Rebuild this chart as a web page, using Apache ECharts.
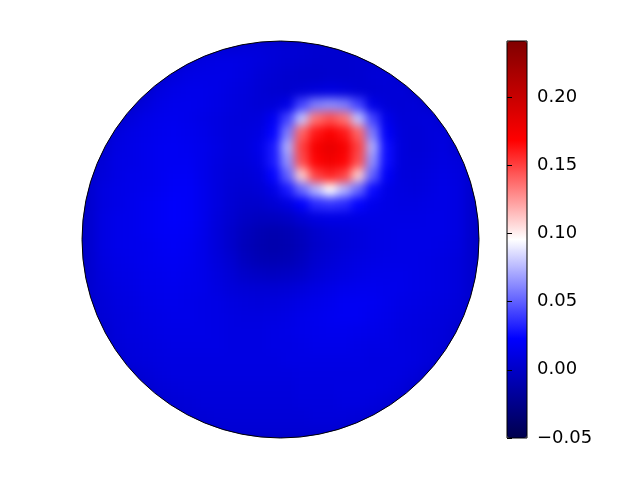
<!DOCTYPE html>
<html>
<head>
<meta charset="utf-8">
<title>disk field</title>
<script src="https://cdn.jsdelivr.net/npm/echarts@6.0.0/dist/echarts.min.js"></script>
<style>
  html, body { margin: 0; background: #fff; }
  .layer { position: absolute; left: 0; top: 0; width: 620px; height: 480px; }
  /* the field is drawn on its own layer and softened, like the shaded plot */
  #field { filter: blur(5px); }
</style>
</head>
<body>
<div id="field" class="layer"></div>
<div id="frame" class="layer"></div>
<script>
// values read off the disk, in units of 1e-3, one list per cell row (top -> bottom)
// rowStart = first column of each row that still touches the disk
const rowStart = [8, 6, 5, 4, 3, 2, 1, 1, 0, 0, 0, 0, 0, 0, 0, 0, 0, 0, 0, 0, 1, 1, 2, 3, 4, 5, 6, 8]
const field = [
	[3, 6, 7, 8, 8, 7, 6, 5, 4, 3, 3, 3],
	[3, 8, 11, 12, 12, 11, 9, 7, 5, 4, 3, 3, 3, 4, 5, 3],
	[3, 9, 12, 13, 13, 12, 10, 7, 5, 3, 2, 2, 3, 3, 4, 6, 7, 3],
	[3, 10, 13, 14, 14, 13, 11, 9, 6, 4, 3, 5, 8, 10, 8, 5, 5, 6, 7, 3],
	[3, 9, 13, 15, 15, 14, 12, 10, 8, 6, 7, 12, 42, 58, 62, 58, 42, 12, 7, 6, 7, 3],
	[3, 9, 13, 15, 16, 15, 13, 11, 9, 8, 9, 18, 42, 78, 136, 146, 136, 78, 42, 14, 7, 7, 8, 3],
	[3, 9, 12, 14, 16, 17, 16, 14, 11, 9, 9, 11, 24, 58, 140, 162, 170, 162, 140, 58, 20, 8, 6, 8, 9, 4],
	[4, 11, 13, 15, 17, 18, 17, 15, 12, 9, 9, 14, 30, 72, 150, 172, 180, 172, 150, 72, 26, 9, 6, 8, 10, 4],
	[3, 7, 12, 13, 15, 17, 18, 18, 15, 11, 8, 8, 12, 30, 64, 146, 167, 175, 167, 146, 64, 26, 9, 7, 9, 11, 9, 3],
	[3, 8, 12, 14, 15, 17, 19, 19, 15, 10, 7, 6, 9, 24, 50, 110, 150, 158, 150, 110, 50, 20, 9, 8, 10, 12, 10, 3],
	[3, 10, 13, 14, 16, 18, 20, 20, 16, 10, 6, 4, 6, 12, 30, 52, 74, 96, 74, 52, 26, 13, 10, 9, 11, 13, 11, 3],
	[3, 10, 13, 15, 17, 19, 21, 20, 16, 10, 5, 2, 2, 5, 10, 22, 35, 38, 35, 24, 15, 12, 11, 11, 12, 13, 11, 3],
	[3, 11, 14, 15, 17, 19, 21, 20, 16, 9, 4, -1, -3, -3, -1, 5, 10, 12, 12, 12, 12, 12, 12, 12, 13, 13, 11, 3],
	[3, 11, 14, 15, 17, 19, 20, 19, 15, 8, 2, -4, -8, -10, -8, -4, 2, 5, 7, 9, 11, 12, 13, 13, 13, 13, 11, 3],
	[3, 11, 14, 15, 16, 18, 19, 18, 14, 8, 2, -5, -9, -11, -9, -5, 1, 4, 7, 9, 11, 12, 13, 13, 13, 12, 10, 3],
	[3, 10, 13, 14, 16, 17, 18, 17, 14, 9, 4, -3, -7, -8, -7, -3, 3, 6, 9, 11, 12, 13, 13, 13, 12, 11, 9, 3],
	[3, 9, 12, 13, 15, 16, 17, 16, 14, 10, 6, 1, -1, -2, -1, 1, 6, 9, 11, 13, 14, 14, 14, 13, 12, 11, 9, 3],
	[3, 8, 11, 12, 14, 15, 16, 15, 14, 11, 8, 6, 5, 5, 6, 8, 11, 13, 15, 16, 16, 15, 14, 13, 12, 11, 9, 3],
	[3, 7, 10, 11, 13, 14, 15, 14, 13, 12, 10, 9, 8, 9, 10, 12, 14, 16, 18, 18, 17, 15, 13, 12, 11, 10, 8, 3],
	[3, 6, 9, 10, 12, 13, 14, 14, 13, 12, 11, 10, 10, 11, 12, 14, 16, 17, 18, 18, 16, 14, 12, 11, 10, 9, 7, 3],
	[3, 8, 10, 11, 12, 13, 13, 13, 12, 11, 11, 11, 12, 13, 14, 15, 16, 16, 15, 14, 13, 11, 10, 9, 8, 3],
	[3, 7, 9, 10, 11, 12, 12, 12, 12, 11, 11, 11, 12, 12, 13, 14, 14, 14, 13, 12, 12, 11, 10, 9, 7, 3],
	[3, 8, 9, 10, 11, 11, 11, 11, 11, 11, 11, 11, 12, 12, 12, 12, 12, 12, 11, 11, 11, 10, 8, 3],
	[3, 7, 9, 10, 10, 10, 10, 10, 10, 10, 10, 10, 11, 11, 11, 11, 11, 11, 11, 10, 8, 3],
	[3, 7, 8, 9, 9, 9, 9, 9, 9, 9, 9, 10, 10, 10, 11, 11, 11, 10, 8, 3],
	[3, 6, 7, 8, 8, 8, 8, 8, 8, 8, 9, 9, 9, 10, 10, 9, 7, 3],
	[2, 5, 6, 7, 7, 7, 7, 7, 7, 7, 8, 8, 8, 7, 5, 2],
	[2, 4, 5, 5, 5, 5, 5, 5, 5, 5, 4, 2],
]

// colour scale (matplotlib "seismic") and colorbar ticks
const vMin = -0.05
const vMax = 0.241
const colorbarTicks = [-0.05, 0, 0.05, 0.1, 0.15, 0.2]
const seismic = ["#00004d", "#0000ff", "#ffffff", "#ff0000", "#800000"]

const n = field.length
const cats = []
for (let i = 0; i < n; i++) cats.push(i)
const cells = []
field.forEach((row, j) => {
	row.forEach((v, k) => {
		cells.push([rowStart[j] + k, j, v / 1000])
	})
})

function tickText(v) {
	// matplotlib writes the minus as U+2212
	return v < 0 ? "\u2212" + Math.abs(v).toFixed(2) : v.toFixed(2)
}

const diskGrid = { left: 82, top: 41, width: 397, height: 397 }

// layer 1: the field itself
const fieldChart = echarts.init(document.getElementById("field"))
fieldChart.setOption({
	animation: false,
	grid: diskGrid,
	xAxis: { type: "category", data: cats, show: false },
	yAxis: { type: "category", data: cats, inverse: true, show: false },
	visualMap: { type: "continuous", show: false, min: vMin, max: vMax, seriesIndex: 0, inRange: { color: seismic } },
	series: [{ type: "heatmap", data: cells, emphasis: { disabled: true } }],
})

// disk centre / radius from the grid's own scale
const p0 = fieldChart.convertToPixel({ gridIndex: 0 }, [0, 0])
const p1 = fieldChart.convertToPixel({ gridIndex: 0 }, [n - 1, n - 1])
const cx = (p0[0] + p1[0]) / 2
const cy = (p0[1] + p1[1]) / 2
const r = (p1[0] - p0[0]) / 2 + (p1[0] - p0[0]) / (n - 1) / 2

// rim colour under the cells so the blur does not pull white into the edge
fieldChart.setOption({
	graphic: [{ type: "circle", silent: true, z: -1, shape: { cx: cx, cy: cy, r: r + 12 }, style: { fill: "#0000b4" } }],
})

// layer 2: mask, outline and colorbar
const frame = echarts.init(document.getElementById("frame"))
frame.setOption({
	animation: false,
	textStyle: { fontFamily: "DejaVu Sans" },
	grid: [
		{ left: 507, top: 41, width: 20, height: 397, show: true, borderColor: "#000", borderWidth: 1, z: 6 },
	],
	xAxis: [{ type: "value", show: false }],
	yAxis: [
		{
			type: "value",
			position: "right",
			min: vMin,
			max: vMax,
			z: 6,
			axisLine: { show: false },
			splitLine: { show: false },
			axisTick: { customValues: colorbarTicks, length: 5, lineStyle: { color: "#000" } },
			axisLabel: {
				customValues: colorbarTicks,
				margin: 10,
				fontSize: 18,
				color: "#000",
				formatter: tickText,
			},
		},
	],
	visualMap: {
		type: "continuous",
		min: vMin,
		max: vMax,
		seriesIndex: [],
		left: 507,
		top: 41,
		itemWidth: 20,
		itemHeight: 397,
		padding: 0,
		text: [],
		calculable: false,
		hoverLink: false,
		inRange: { color: seismic },
		z: 5,
	},
	graphic: [
		{ type: "ring", silent: true, z: 3, shape: { cx: cx, cy: cy, r: r + 34, r0: r }, style: { fill: "#fff" } },
		{ type: "circle", silent: true, z: 4, shape: { cx: cx, cy: cy, r: r }, style: { fill: null, stroke: "#000", lineWidth: 1 } },
	],
})
</script>
</body>
</html>
